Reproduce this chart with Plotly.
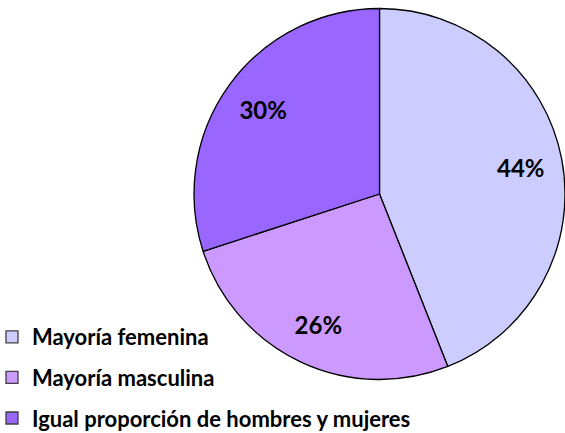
import plotly.graph_objects as go

labels = ["Mayoría femenina", "Mayoría masculina", "Igual proporción de hombres y mujeres"]
values = [44, 26, 30]
colors = ["#CCCCFF", "#CC99FF", "#9966FF"]

W, H = 565, 433
dom = dict(x=[194 / W, 1.0], y=[1 - 380 / H, 1 - 8 / H])

fig = go.Figure()
# pie slices
fig.add_trace(go.Pie(
    labels=labels, values=values, sort=False, direction="clockwise", rotation=0,
    marker=dict(colors=colors, line=dict(color="black", width=1.3)),
    textinfo="none", domain=dom, showlegend=False,
    hoverinfo="label+percent",
))
# percentage labels (ring placement as in the original)
fig.add_trace(go.Pie(
    labels=labels, values=values, sort=False, direction="clockwise", rotation=0,
    hole=0.55,
    marker=dict(colors=["rgba(0,0,0,0)"] * 3, line=dict(width=0)),
    texttemplate="%{percent:.0%}", textposition="inside",
    insidetextorientation="horizontal",
    textfont=dict(family="Lato", size=24, color="black", weight="bold"),
    domain=dom, showlegend=False, hoverinfo="skip",
))
# legend entries
for lab, col in zip(labels, colors):
    fig.add_trace(go.Scatter(
        x=[None], y=[None], mode="markers", name=lab, legendgroup=lab,
        marker=dict(symbol="square", size=12, color=col, line=dict(color="#404040", width=1.3)),
    ))

fig.update_layout(
    width=W, height=H,
    margin=dict(l=0, r=0, t=0, b=0, autoexpand=False),
    paper_bgcolor="white", plot_bgcolor="rgba(0,0,0,0)",
    xaxis=dict(visible=False), yaxis=dict(visible=False),
    showlegend=True,
    legend=dict(
        x=-0.0142, y=0.2702, xanchor="left", yanchor="top",
        font=dict(family="Lato", size=22, color="black", weight="bold"),
        tracegroupgap=9,
        itemwidth=30,
        bgcolor="rgba(0,0,0,0)",
    ),
)
fig.write_html(
    "out.html",
    config={"displayModeBar": False},
    post_script="document.body.style.margin='0';document.body.style.overflow='hidden';",
)
